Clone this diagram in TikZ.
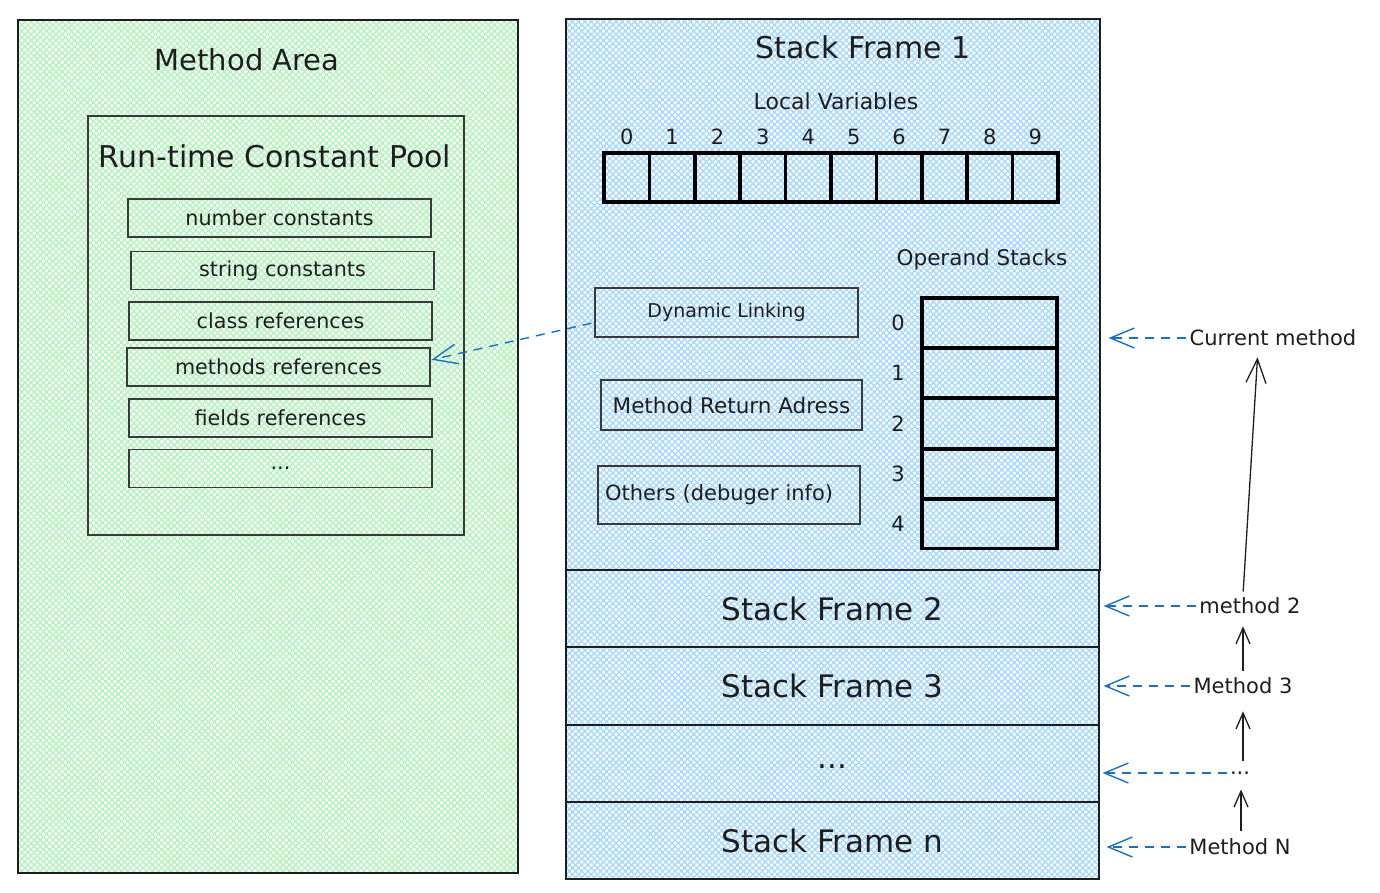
\documentclass[tikz,border=0pt]{standalone}
\usepackage{fontspec}
\setmainfont{DejaVu Sans}
\usetikzlibrary{arrows.meta,patterns.meta}
\definecolor{hgreen}{HTML}{B2F2BB}
\definecolor{hblue}{HTML}{A5D8FF}
\definecolor{ink}{HTML}{1E1E1E}
\definecolor{boxline}{HTML}{3A3A3A}
\definecolor{arrblue}{HTML}{1971C2}
\tikzset{
  hatchg/.style={preaction={fill=white},
    preaction={pattern={Lines[angle=45,distance=4.4pt,line width=1.3pt]},pattern color=hgreen},
    preaction={pattern={Lines[angle=-45,distance=4.4pt,line width=1.3pt]},pattern color=hgreen}},
  hatchb/.style={preaction={fill=white},
    preaction={pattern={Lines[angle=45,distance=4.4pt,line width=1.3pt]},pattern color=hblue},
    preaction={pattern={Lines[angle=-45,distance=4.4pt,line width=1.3pt]},pattern color=hblue}},
  frame/.style={draw=ink,line width=1.2pt,inner sep=0pt,text=ink},
  itembox/.style={draw=boxline,line width=1.2pt,inner sep=0pt,text=ink,font=\fontsize{20.7}{24}\selectfont},
  cellbox/.style={draw=black,line width=3.6pt,inner sep=0pt},
  bigtxt/.style={text=ink,inner sep=2pt,font=\fontsize{29}{34}\selectfont},
  frametxt/.style={text=ink,font=\fontsize{31}{36}\selectfont},
  smalltxt/.style={text=ink,inner sep=3pt,font=\fontsize{21}{25}\selectfont},
  bluearrow/.style={draw=arrblue,line width=1.4pt,dash pattern=on 9pt off 7pt,
    -{Straight Barb[length=24pt,width=20pt,line width=1.4pt]}},
  blackarrow/.style={draw=ink,line width=1.3pt,
    -{Straight Barb[length=16pt,width=14pt,line width=1.3pt]}},
  longarrow/.style={draw=ink,line width=1.3pt,
    -{Straight Barb[length=24pt,width=20pt,line width=1.3pt]}}
}
\begin{document}
\begin{tikzpicture}[x=1pt,y=-1pt]
\useasboundingbox (0,0) rectangle (1380,893);
% Method area
\node[frame,hatchg,minimum width=500,minimum height=853] (ma) at (268,446.5) {};
\node[bigtxt] (matitle) at (247,60) {Method Area};
\node[frame,draw=boxline,minimum width=376,minimum height=419] (pool) at (276,325.5) {};
\node[bigtxt,font=\fontsize{30}{34}\selectfont] (pooltitle) at (275,156) {Run-time Constant Pool};
\node[itembox,minimum width=303,minimum height=38] (nc) at (279.5,218) {number constants};
\node[itembox,minimum width=303,minimum height=38] (sc) at (282.5,270.5) {string constants};
\node[itembox,minimum width=303,minimum height=38] (cr) at (280.5,321) {class references};
\node[itembox,minimum width=303,minimum height=38] (mr) at (278.5,367) {methods references};
\node[itembox,minimum width=303,minimum height=38] (fr) at (280.5,418) {fields references};
\node[itembox,minimum width=303,minimum height=38] (et) at (280.5,468.5) {...};
% Stack frame 1
\node[frame,hatchb,minimum width=534,minimum height=551] (sf1) at (833,294.5) {};
\node[frametxt,font=\fontsize{30}{36}\selectfont] (sf1title) at (863,47) {Stack Frame 1};
\node[smalltxt,font=\fontsize{22}{26}\selectfont] (lvtitle) at (836,101) {Local Variables};
\foreach \i in {0,...,9}{
  \node[cellbox,minimum width=45.4,minimum height=49] (lv\i) at ({626.7+45.4*\i},177.5) {};
  \node[smalltxt] (lvn\i) at ({626.7+45.4*\i},137) {\i};
}
\node[smalltxt,font=\fontsize{21.5}{25}\selectfont] (ostitle) at (982,260) {Operand Stacks};
\foreach \i/\y in {0/323,1/373,2/423.5,3/474,4/523.5}{
  \node[cellbox,minimum width=135,minimum height=50] (os\i) at (989.5,\y) {};
  \node[smalltxt] (osn\i) at (898,\y) {\i};
}
\node[itembox,font=\fontsize{19}{23}\selectfont,minimum width=263,minimum height=49] (dl) at (726.5,312.5) {Dynamic Linking};
\node[itembox,font=\fontsize{21.5}{25}\selectfont,minimum width=261,minimum height=50] (mra) at (731.5,405) {Method Return Adress};
\node[itembox,font=\fontsize{21}{25}\selectfont,minimum width=262,minimum height=58,text width=248,align=left] (oth) at (729,495) {Others (debuger info)};
% other frames
\node[frame,hatchb,frametxt,minimum width=533,minimum height=77] (sf2) at (832.5,608.5) {Stack Frame 2};
\node[frame,hatchb,frametxt,minimum width=533,minimum height=78] (sf3) at (832.5,686) {Stack Frame 3};
\node[frame,hatchb,frametxt,minimum width=533,minimum height=77] (sfd) at (832.5,763.5) {\raisebox{-5pt}[0pt][0pt]{...}};
\node[frame,hatchb,frametxt,minimum width=533,minimum height=77] (sfn) at (832.5,840.5) {Stack Frame n};
% right labels
\node[smalltxt] (cm) at (1273,338) {Current method};
\node[smalltxt] (m2) at (1250,606) {method 2};
\node[smalltxt] (m3) at (1243,686) {Method 3};
\node[smalltxt] (md) at (1240,773) {...};
\node[smalltxt] (mn) at (1240,847) {Method N};
% connectors
\draw[bluearrow,shorten <=3pt,shorten >=1pt] ([yshift=-10pt]dl.west) -- ([yshift=7pt]mr.east);
\draw[bluearrow,shorten >=8pt] (cm.west) -- (cm.west -| sf1.east);
\draw[bluearrow,shorten >=4pt] (m2.west) -- (m2.west -| sf2.east);
\draw[bluearrow,shorten >=4pt] (m3.west) -- (m3.west -| sf3.east);
\draw[bluearrow,shorten >=3pt] (md.west) -- (md.west -| sfd.east);
\draw[bluearrow,shorten >=7pt] (mn.west) -- (mn.west -| sfn.east);
\draw[longarrow,shorten <=3pt,shorten >=8pt] ([xshift=-7pt]m2.north) -- ([xshift=-15pt]cm.south);
\draw[blackarrow,shorten <=4pt,shorten >=9pt] (m3.north) -- ([xshift=-7pt]m2.south);
\draw[blackarrow,shorten <=8pt,shorten >=14pt] ([xshift=3pt]md.north) -- (m3.south);
\draw[blackarrow,shorten <=5pt,shorten >=12pt] ([xshift=1pt]mn.north) -- ([xshift=1pt]md.south);
\end{tikzpicture}
\end{document}
